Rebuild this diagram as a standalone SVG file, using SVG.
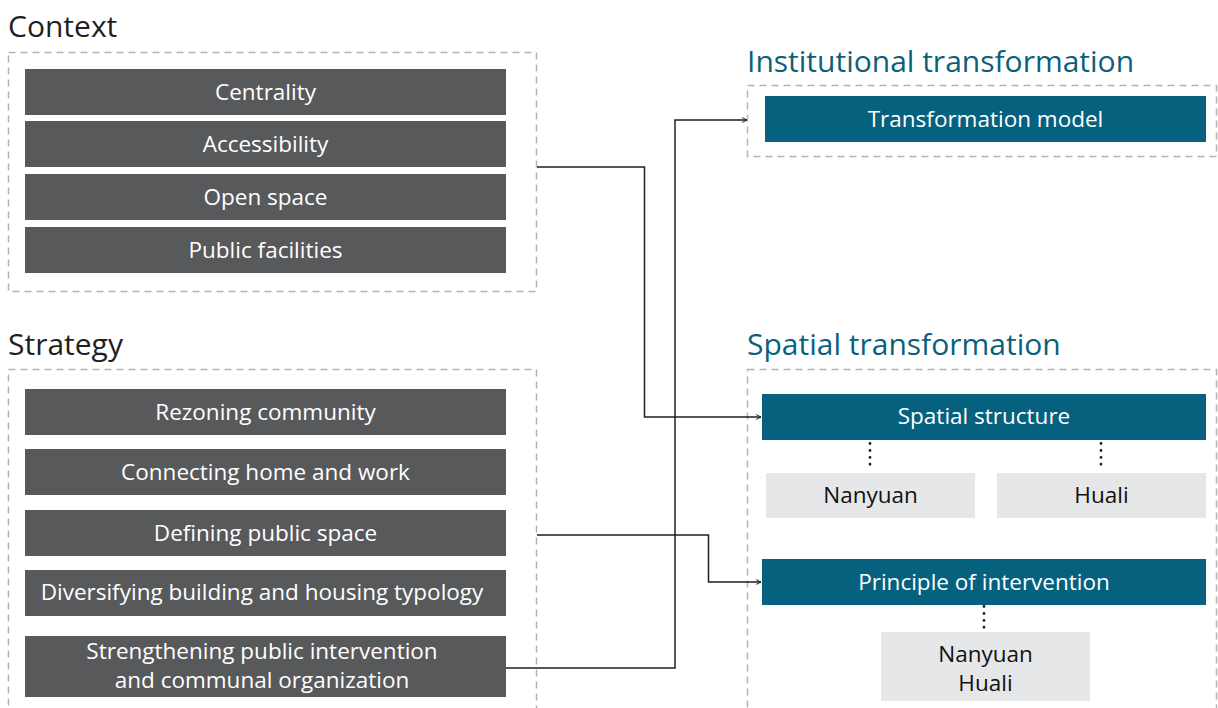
<svg xmlns="http://www.w3.org/2000/svg" width="1218" height="708" viewBox="0 0 1218 708">
<defs>
<style>
.title{font-family:"Open Sans","Liberation Sans",sans-serif;font-size:30px;fill:#231f20}
.ttl{fill:#0b5f7c}
.frame{fill:none;stroke:#b3b3b5;stroke-width:1.5;stroke-dasharray:7 5}
.gbox{fill:#58595b}
.tbox{fill:#06617f}
.lbox{fill:#e6e7e8}
.wt{font-family:"Open Sans","Liberation Sans",sans-serif;font-size:22.5px;fill:#ffffff;text-anchor:middle}
.dt{font-family:"Open Sans","Liberation Sans",sans-serif;font-size:22.5px;fill:#111111;text-anchor:middle}
.conn{fill:none;stroke:#231f20;stroke-width:1.5}
.dot{fill:none;stroke:#231f20;stroke-width:2.8;stroke-dasharray:0.1 6.8;stroke-linecap:round}
</style>
<marker id="arr" viewBox="0 0 10 10" refX="9" refY="5" markerWidth="6" markerHeight="6" markerUnits="userSpaceOnUse" orient="auto">
<path d="M1,1 L9,5 L1,9" fill="none" stroke="#231f20" stroke-width="1.6"/>
</marker>
</defs>
<rect width="1218" height="708" fill="#ffffff"/>

<g id="context">
<text class="title" x="8" y="37">Context</text>
<rect class="frame" x="8.5" y="52.5" width="528" height="239"/>
</g>
<g id="centrality"><rect class="gbox" x="25" y="69" width="481" height="46"/><text class="wt" x="265.5" y="100">Centrality</text></g>
<g id="accessibility"><rect class="gbox" x="25" y="121" width="481" height="46"/><text class="wt" x="265.5" y="152">Accessibility</text></g>
<g id="open-space"><rect class="gbox" x="25" y="174" width="481" height="46"/><text class="wt" x="265.5" y="205">Open space</text></g>
<g id="public-facilities"><rect class="gbox" x="25" y="227" width="481" height="46"/><text class="wt" x="265.5" y="258">Public facilities</text></g>

<g id="strategy">
<text class="title" x="8" y="355">Strategy</text>
<rect class="frame" x="8.5" y="369.5" width="528" height="360"/>
</g>
<g id="rezoning"><rect class="gbox" x="25" y="389" width="481" height="46"/><text class="wt" x="265.5" y="420">Rezoning community</text></g>
<g id="connecting"><rect class="gbox" x="25" y="449" width="481" height="46"/><text class="wt" x="265.5" y="480">Connecting home and work</text></g>
<g id="defining"><rect class="gbox" x="25" y="510" width="481" height="46"/><text class="wt" x="265.5" y="541">Defining public space</text></g>
<g id="diversifying"><rect class="gbox" x="25" y="570" width="481" height="46"/><text class="wt" x="262" y="600">Diversifying building and housing typology</text></g>
<g id="strengthening"><rect class="gbox" x="25" y="636" width="481" height="61"/><text class="wt" x="262" y="659">Strengthening public intervention</text><text class="wt" x="262" y="688">and communal organization</text></g>

<g id="institutional">
<text class="title ttl" x="747" y="72">Institutional transformation</text>
<rect class="frame" x="747.5" y="85.5" width="469" height="71"/>
</g>
<g id="transformation-model"><rect class="tbox" x="765" y="96" width="441" height="46"/><text class="wt" x="985.5" y="127">Transformation model</text></g>

<g id="spatial">
<text class="title ttl" x="747" y="355">Spatial transformation</text>
<rect class="frame" x="747.5" y="369.5" width="469" height="360"/>
</g>
<g id="spatial-structure"><rect class="tbox" x="762" y="394" width="444" height="46"/><text class="wt" x="984" y="424">Spatial structure</text></g>
<g id="nanyuan"><rect class="lbox" x="766" y="473" width="209" height="45"/><text class="dt" x="870.5" y="503">Nanyuan</text></g>
<g id="huali"><rect class="lbox" x="997" y="473" width="209" height="45"/><text class="dt" x="1101.5" y="503">Huali</text></g>
<g id="principle"><rect class="tbox" x="762" y="559" width="444" height="46"/><text class="wt" x="984" y="590">Principle of intervention</text></g>
<g id="nanyuan-huali"><rect class="lbox" x="881" y="632" width="209" height="69"/><text class="dt" x="985.5" y="662">Nanyuan</text><text class="dt" x="985.5" y="691">Huali</text></g>

<g id="connectors">
<path class="conn" d="M537,167 H644.5 V417 H761" marker-end="url(#arr)"/>
<path class="conn" d="M506,668 H675 V120 H747" marker-end="url(#arr)"/>
<path class="conn" d="M537,535 H708.5 V582 H761" marker-end="url(#arr)"/>
<path class="dot" d="M870,443.5 V471"/>
<path class="dot" d="M1101,443.5 V471"/>
<path class="dot" d="M984,606.5 V634"/>
</g>
</svg>
